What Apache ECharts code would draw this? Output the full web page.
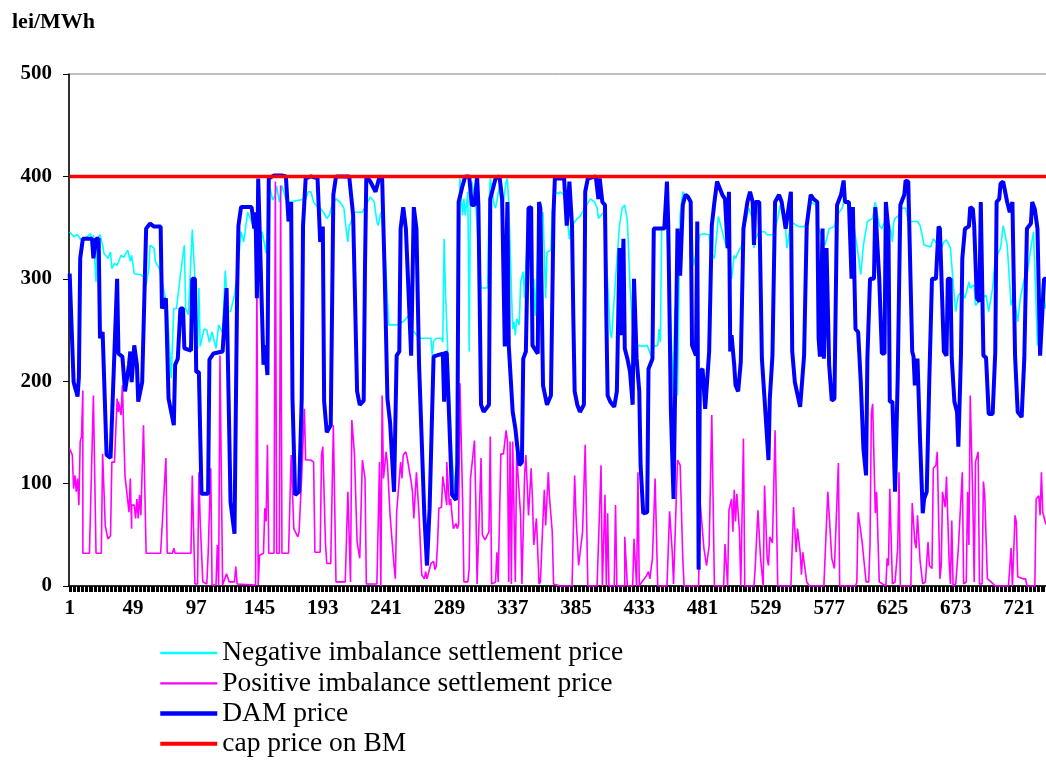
<!DOCTYPE html>
<html>
<head>
<meta charset="utf-8">
<script src="https://cdn.jsdelivr.net/npm/echarts@6/dist/echarts.min.js"></script>
<style>
html,body{margin:0;padding:0;background:#fff;overflow:hidden;}
#chart{width:1050px;height:760px;}
</style>
</head>
<body>
<div id="chart"></div>
<script>
// hours of the month (categories 1..744)
const hourCount = 744;
const yTicks = [0, 100, 200, 300, 400, 500];
const capPrice = 400;

// [hour, lei/MWh] vertices
const damPrice = [
[1,305],[4,199],[7,185],[8,204],[9,320],[11,339],[18,339],[19,320],[21,339],[23,339],[24,242],[26,248],[29,128],[32,125],[37,300],[38,227],[41,224],[43,190],[46,216],[47,229],[48,199],[50,235],[52,216],[53,180],[56,199],[59,349],[62,354],[65,351],[70,351],[71,271],[74,281],[76,183],[80,157],[81,216],[83,222],[85,271],[87,271],[88,232],
[89,232],[93,230],[94,300],[96,300],[97,209],[99,209],[101,90],[106,90],[107,221],[110,227],[117,229],[120,291],[123,82],[126,51],[128,287],[129,352],[131,370],[139,370],[141,349],[142,365],[143,281],[144,398],[148,216],[149,235],[151,206],[152,398],[156,401],[162,401],[165,400],[167,356],[169,375],[170,183],[172,89],[175,92],[177,183],[178,352],[180,398],
[184,400],[189,398],[191,336],[193,351],[194,180],[196,150],[199,157],[201,382],[203,400],[213,400],[216,362],[219,190],[221,177],[224,181],[225,313],[226,400],[229,395],[233,385],[236,400],[238,398],[240,300],[242,183],[244,160],[247,92],[249,225],[251,229],[252,349],[254,370],[256,349],[260,225],[262,370],[264,349],[266,216],[270,69],[272,20],[274,76],[277,224],
[279,225],[284,227],[285,180],[286,229],[287,227],[291,89],[294,84],[295,120],[296,375],[299,391],[301,400],[304,400],[306,372],[308,372],[310,400],[311,372],[313,177],[315,170],[319,177],[320,378],[324,398],[327,400],[329,378],[331,234],[333,375],[334,235],[337,170],[339,154],[342,118],[344,121],[345,222],[347,229],[349,369],[351,370],[352,235],[356,227],[357,375],[358,369],[360,196],[363,177],[366,186],[368,365],[369,398],[373,398],
[376,398],[378,352],[380,395],[382,352],[383,261],[384,190],[386,177],[388,170],[391,177],[392,385],[394,398],[400,400],[402,378],[403,398],[405,375],[407,372],[408,265],[409,186],[411,180],[414,175],[416,190],[418,330],[419,245],[421,339],[422,232],[424,222],[426,209],[428,177],[429,300],[431,222],[433,190],[434,118],[436,71],[439,72],[440,212],[443,222],[444,349],[452,349],[454,395],[455,352],[457,170],[459,85],[462,349],[464,303],[466,372],[468,382],
[470,380],[472,375],[473,235],[476,225],[477,356],[478,16],[479,209],[481,212],[483,173],[484,172],[486,229],[488,352],[490,375],[492,395],[493,396],[496,382],[498,378],[500,330],[501,385],[502,229],[503,245],[505,216],[506,196],[508,190],[510,219],[512,349],[515,375],[517,385],[519,375],[520,333],[521,375],[524,375],[526,222],[528,183],[531,123],[532,183],[534,225],[536,375],[539,382],[541,375],[544,349],[548,385],[549,229],[551,199],[555,175],[558,225],[560,352],[563,382],
[565,378],[568,375],[569,242],[570,224],[572,349],[573,222],[575,330],[577,216],[579,181],[581,183],[583,372],[586,382],[588,396],[589,375],[592,375],[594,300],[595,370],[597,251],[599,248],[601,199],[603,134],[605,108],[606,222],[608,300],[611,300],[612,370],[615,300],[617,227],[619,227],[620,375],[622,346],[623,180],[625,180],[627,92],[629,203],[631,372],[634,382],[635,396],[637,395],[640,229],[641,224],[642,196],[644,222],[646,141],[648,71],[649,85],[651,92],[653,203],[655,300],
[658,300],[660,351],[661,349],[664,229],[666,225],[667,300],[669,300],[670,222],[672,180],[674,170],[675,136],[677,227],[678,320],[680,349],[683,351],[684,370],[686,368],[687,352],[689,281],[691,278],[692,375],[694,225],[696,223],[698,168],[701,168],[703,229],[704,375],[706,378],[707,393],[709,395],[712,375],[714,365],[716,375],[718,225],[720,170],[723,165],[725,222],[727,349],[730,354],[731,375],[733,368],[735,349],[737,225],[738,225],[740,300],[744,300]
];

const negativeImbalance = [
[1,346],[4,341],[7,343],[9,339],[12,338],[14,341],[17,344],[18,326],[19,343],[21,297],[22,339],[24,343],[26,333],[27,325],[30,320],[32,326],[33,310],[35,315],[37,313],[40,323],[42,321],[45,328],[47,317],[48,323],[50,305],[55,304],[57,302],[59,294],[61,310],[62,333],[65,330],[66,317],[69,310],[70,305],[75,271],[78,203],[80,271],[82,271],[85,304],[88,333],
[89,271],[91,265],[94,348],[96,300],[98,232],[99,291],[100,234],[103,251],[105,250],[107,238],[109,248],[112,232],[114,255],[117,248],[119,308],[121,268],[123,268],[126,284],[128,304],[131,346],[133,336],[136,365],[138,359],[141,349],[142,346],[145,320],[147,346],[150,325],[152,378],[153,388],[155,377],[157,382],[158,391],[160,375],[162,391],[165,378],[167,375],[180,378],[182,385],
[184,385],[186,375],[189,370],[191,369],[194,364],[196,359],[198,362],[200,372],[203,378],[206,375],[209,369],[210,356],[212,336],[213,352],[214,354],[217,365],[223,365],[227,375],[229,380],[232,375],[233,365],[234,356],[235,352],[237,365],[238,359],[240,330],[243,255],[249,255],[254,258],[258,264],[261,250],[266,242],[275,242],[276,225],[277,239],
[279,242],[283,242],[284,238],[285,339],[286,287],[288,222],[291,125],[294,85],[296,281],[297,398],[299,362],[300,378],[301,362],[303,385],[304,229],[305,391],[306,395],[309,372],[313,291],[318,291],[319,369],[320,398],[323,372],[324,369],[327,391],[329,365],[332,395],[333,398],[334,372],[337,251],[338,258],[339,245],[340,261],[342,255],[343,297],[345,307],[346,281],[347,313],[349,352],[352,281],[353,300],[354,264],[357,356],[360,365],[362,281],[363,326],[366,328],[367,365],[369,385],[372,383],
[373,385],[376,382],[378,362],[380,339],[381,351],[386,359],[388,361],[393,372],[396,378],[399,375],[401,369],[402,359],[404,362],[406,365],[409,297],[411,248],[412,242],[415,300],[418,352],[420,369],[422,372],[424,356],[426,293],[429,229],[433,235],[436,234],[439,235],[442,225],[444,234],[447,235],[448,251],[449,238],[450,349],[454,349],[457,248],[459,190],[460,271],[462,186],[464,362],[466,385],[468,382],
[470,378],[472,375],[474,313],[477,330],[479,343],[482,344],[486,343],[487,326],[490,320],[492,346],[493,361],[496,346],[498,336],[501,326],[503,300],[505,323],[506,320],[508,326],[511,333],[513,352],[516,369],[519,359],[520,330],[521,339],[524,346],[528,346],[530,343],[535,343],[538,359],[540,372],[544,349],[545,330],[548,356],[550,354],[554,351],[558,351],[560,352],[563,375],
[567,372],[569,349],[574,333],[577,349],[581,351],[583,362],[587,369],[588,375],[593,372],[598,333],[601,304],[603,333],[606,356],[610,359],[612,375],[615,352],[617,349],[621,362],[624,346],[625,336],[626,356],[627,359],[630,362],[632,369],[635,369],[637,356],[644,356],[646,352],[649,333],[654,331],[656,339],
[658,336],[661,326],[664,336],[666,338],[669,330],[672,281],[673,268],[675,284],[678,287],[680,281],[683,297],[684,291],[687,294],[688,274],[693,281],[696,284],[698,268],[701,291],[703,320],[707,330],[709,352],[712,333],[715,274],[717,284],[720,258],[722,281],[725,300],[727,303],[730,330],[732,346],[735,235],[739,297],[741,271],[744,280]
];

const positiveImbalance = [
[1,134],[3,128],[4,95],[5,108],[6,92],[7,105],[8,79],[9,141],[10,146],[11,191],[11,32],[16,32],[19,186],[21,32],[25,32],[26,129],[28,59],[30,46],[32,49],[33,121],[35,121],[37,183],[38,170],[38,180],[40,167],[41,196],[43,107],[46,72],[47,105],[48,56],[48,79],[50,79],[51,66],[52,85],[53,66],[54,89],[55,69],[57,157],[59,32],[70,32],[74,125],[75,32],[79,32],[80,37],[81,32],[89,32],
[93,32],[94,108],[96,2],[98,2],[99,111],[100,63],[102,4],[105,2],[106,30],[108,115],[109,1],[112,1],[113,40],[114,1],[115,225],[117,1],[120,12],[122,4],[126,4],[127,19],[128,2],[142,1],[143,300],[144,1],[145,30],[148,32],[149,76],[150,63],[151,138],[152,32],[156,32],[157,395],[158,32],[160,32],[161,391],[162,32],[167,32],[169,128],[171,56],[174,48],[175,53],[177,108],[179,173],[180,123],[184,123],
[186,121],[187,33],[191,33],[192,128],[193,136],[195,42],[196,22],[199,22],[201,157],[203,4],[210,4],[212,92],[214,4],[215,162],[217,129],[219,43],[221,27],[223,123],[225,105],[226,2],[234,2],[236,121],[237,0],[238,186],[239,105],[241,131],[242,120],[244,69],[247,20],[248,7],[249,72],[251,105],[252,121],[253,105],[254,128],[256,131],[257,125],[260,102],[261,92],[262,66],[264,111],[266,69],[268,11],[270,7],[271,14],[272,7],[275,22],[277,24],[278,16],
[279,19],[280,40],[281,76],[283,77],[284,107],[286,89],[287,79],[287,121],[289,79],[290,85],[291,69],[292,56],[294,61],[295,56],[296,60],[297,198],[299,85],[300,4],[303,4],[304,17],[305,105],[308,142],[309,85],[310,2],[311,2],[313,125],[314,50],[316,45],[319,53],[320,146],[321,2],[324,4],[325,33],[326,4],[328,129],[330,129],[332,152],[333,141],[334,4],[335,141],[336,2],[337,141],[339,4],[340,129],[343,69],[344,2],[346,107],[347,128],[349,69],[351,115],[352,85],[353,40],[355,66],[357,2],[358,4],[360,66],[361,94],[362,59],[364,111],[365,85],[367,53],[368,2],[373,0],
[382,0],[384,108],[385,69],[387,20],[390,53],[392,138],[394,0],[401,0],[404,118],[405,0],[407,89],[408,0],[409,71],[410,0],[414,0],[415,79],[416,0],[422,0],[422,48],[424,0],[428,0],[429,46],[431,0],[432,111],[433,0],[435,4],[438,9],[440,14],[441,7],[443,27],[445,105],[447,0],[454,0],[456,73],[458,33],[459,2],[462,123],[464,118],[466,27],[467,0],
[478,0],[479,85],[482,37],[484,20],[486,39],[488,167],[490,0],[497,0],[498,41],[500,0],[501,74],[503,85],[504,53],[505,94],[506,63],[507,90],[509,53],[510,0],[511,0],[512,144],[513,0],[520,0],[521,20],[523,74],[525,27],[527,0],[528,98],[530,27],[531,20],[532,48],[534,42],[536,152],[538,0],[548,0],[550,77],[552,33],[553,56],[555,33],[556,11],[557,33],[560,4],[562,0],
[573,0],[576,92],[579,27],[581,17],[584,120],[585,0],[597,0],[598,4],[599,72],[602,43],[605,4],[607,4],[608,40],[609,168],[610,178],[612,71],[613,92],[615,4],[620,0],[621,27],[622,20],[623,95],[625,2],[627,4],[629,37],[630,111],[631,0],[639,0],[640,81],[642,43],[643,37],[644,69],[646,24],[648,2],[650,4],[652,43],[653,20],[655,17],[656,115],[658,118],
[659,131],[661,7],[662,20],[663,92],[665,77],[666,107],[668,24],[669,2],[670,64],[671,0],[673,2],[675,37],[678,111],[679,2],[681,4],[682,92],[683,40],[684,186],[686,82],[687,4],[688,121],[689,120],[690,131],[691,2],[693,2],[694,102],[695,89],[697,7],[699,5],[703,0],[713,0],[715,37],[716,0],[718,69],[719,62],[720,9],[724,7],[726,7],[727,0],[733,0],[734,85],[736,88],[737,69],[738,111],[739,72],[741,62],[744,55]
];

const seriesNames = ['Negative imbalance settlement price','Positive imbalance settlement price','DAM price','cap price on BM'];

const hours = [];
for (let h = 1; h <= hourCount; h++) hours.push(String(h));
const toIdx = pts => pts.map(p => [p[0] - 1, p[1]]);

const FONT = "'Liberation Serif','Times New Roman',serif";
const chart = echarts.init(document.getElementById('chart'), null, {renderer: 'canvas'});
chart.setOption({
  animation: false,
  backgroundColor: '#fff',
  graphic: [{type: 'text', left: 12, top: 11, style: {text: 'lei/MWh', font: 'bold 22px ' + FONT, fill: '#000'}}],
  grid: {left: 69, right: 0, top: 74, bottom: 174, show: true, borderColor: '#808080', borderWidth: 1},
  legend: {
    orient: 'vertical', left: 158, top: 638, padding: 0, itemGap: 0,
    itemWidth: 57, itemHeight: 14,
    itemStyle: {opacity: 0},
    textStyle: {fontFamily: FONT, fontSize: 27.5, color: '#000', lineHeight: 30.2},
    data: [
      {name: seriesNames[0], lineStyle: {width: 2.5}},
      {name: seriesNames[1], lineStyle: {width: 2.2}},
      {name: seriesNames[2], lineStyle: {width: 4.5}},
      {name: seriesNames[3], lineStyle: {width: 4}}
    ]
  },
  xAxis: {
    type: 'category', data: hours, boundaryGap: true,
    axisLine: {lineStyle: {color: '#000', width: 1.5}},
    axisTick: {show: true, interval: 0, length: 6, lineStyle: {color: '#000', width: 1}},
    axisLabel: {interval: 47, color: '#000', fontFamily: FONT, fontWeight: 'bold', fontSize: 21, margin: 12},
    splitLine: {show: false}
  },
  yAxis: {
    type: 'value', min: yTicks[0], max: yTicks[yTicks.length - 1], interval: 100,
    axisLine: {show: true, lineStyle: {color: '#000', width: 1.5}},
    axisTick: {show: true, length: 6, lineStyle: {color: '#000'}},
    axisLabel: {color: '#000', fontFamily: FONT, fontWeight: 'bold', fontSize: 21, margin: 17},
    splitLine: {show: false}
  },
  series: [
    {name: seriesNames[0], type: 'line', symbol: 'none', data: toIdx(negativeImbalance), lineStyle: {color: '#00FFFF', width: 1.6}, itemStyle: {color: '#00FFFF'}, z: 2},
    {name: seriesNames[1], type: 'line', symbol: 'none', data: toIdx(positiveImbalance), lineStyle: {color: '#FF00FF', width: 1.6}, itemStyle: {color: '#FF00FF'}, z: 3},
    {name: seriesNames[2], type: 'line', symbol: 'none', data: toIdx(damPrice), lineStyle: {color: '#0000FF', width: 4}, itemStyle: {color: '#0000FF'}, z: 4},
    {name: seriesNames[3], type: 'line', symbol: 'none', data: [[0, capPrice], [hourCount - 1, capPrice]], lineStyle: {color: '#FF0000', width: 3.5}, itemStyle: {color: '#FF0000'}, z: 5}
  ]
});
</script>
</body>
</html>
